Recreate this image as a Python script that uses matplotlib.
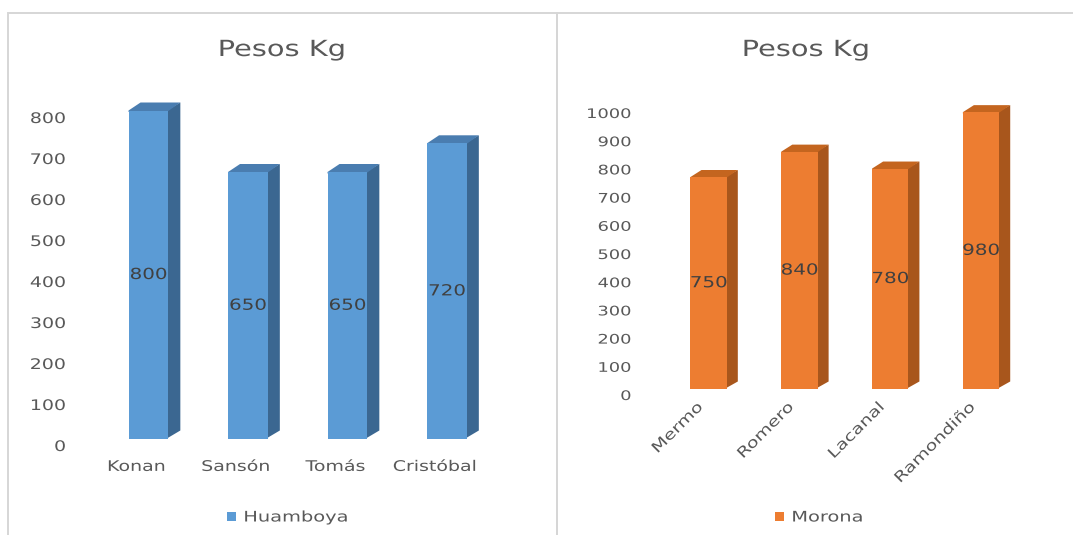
import numpy as np
import matplotlib
matplotlib.use("Agg")
import matplotlib.pyplot as plt
import matplotlib.patheffects as pe
from matplotlib.patches import Polygon, Rectangle
from matplotlib.transforms import ScaledTranslation, Affine2D
from matplotlib.path import Path

# ---- data -------------------------------------------------------------
huamboya_names = ["Konan", "Sansón", "Tomás", "Cristóbal"]
huamboya_kg = [800, 650, 650, 720]

morona_names = ["Mermo", "Romero", "Lacanal", "Ramondiño"]
morona_kg = [750, 840, 780, 980]

left_ticks = list(range(0, 801, 100))
right_ticks = list(range(0, 1001, 100))

# ---- figure -----------------------------------------------------------
W, H, DPI = 1073, 535, 100
plt.rcParams["font.family"] = ["DejaVu Sans"]
fig = plt.figure(figsize=(W / DPI, H / DPI), dpi=DPI)
fig.patch.set_facecolor("white")

TXT = "#595959"
VAL = "#404040"


class Stretch(pe.AbstractPathEffect):
    """Widen text horizontally (along its own baseline) about an anchor."""

    def __init__(self, sx=1.3, anchor="center", angle=0.0):
        super().__init__()
        self.sx, self.anchor, self.angle = sx, anchor, angle

    def draw_path(self, renderer, gc, tpath, affine, rgbFace=None):
        v = tpath.vertices
        if tpath.codes is not None:
            v = v[tpath.codes != Path.CLOSEPOLY]
        if len(v) == 0:
            renderer.draw_path(gc, tpath, affine, rgbFace)
            return
        r = Affine2D().rotate_deg(-self.angle).transform(affine.transform(v))
        if self.anchor == "left":
            x0 = r[:, 0].min()
        elif self.anchor == "right":
            x0 = r[:, 0].max()
        else:
            x0 = 0.5 * (r[:, 0].min() + r[:, 0].max())
        extra = (Affine2D().rotate_deg(-self.angle).translate(-x0, 0)
                 .scale(self.sx, 1).translate(x0, 0).rotate_deg(self.angle))
        renderer.draw_path(gc, tpath, affine + extra, rgbFace)


def px_axes(x0, y_top, x1, y_bot):
    return fig.add_axes([x0 / W, 1 - y_bot / H, (x1 - x0) / W, (y_bot - y_top) / H])


# panel frames
for x0, x1 in [(8, 557), (557, 1090)]:
    fig.patches.append(Rectangle((x0 / W, -0.1), (x1 - x0) / W, 1.1 - 13 / H,
                                 transform=fig.transFigure, fill=False,
                                 ec="#D6D6D6", lw=1.4))


def draw_3d_bars(ax, pos, vals, width, colors, depth, lift, ppx, ppy, fs_val):
    front, side, top = colors
    T = ax.transData + ScaledTranslation(0, lift / DPI, fig.dpi_scale_trans)
    bars = ax.bar(pos, vals, width, color=front, linewidth=0, zorder=3)
    dx, dy = depth[0] / ppx, depth[1] / ppy
    ex, ey = 1.5 / ppx, 1.5 / ppy  # small overlap hidden behind the front face
    for b, p, v in zip(bars, pos, vals):
        b.set_transform(T)
        b.set_clip_on(False)
        xa, xb = p - width / 2, p + width / 2
        ax.add_patch(Polygon([(xb - ex, 0), (xb + dx, dy), (xb + dx, v + dy), (xb - ex, v)],
                             closed=True, fc=side, ec="none", transform=T,
                             clip_on=False, zorder=2))
        ax.add_patch(Polygon([(xa, v - ey), (xa, v), (xa + dx, v + dy), (xb + dx, v + dy),
                              (xb - ex, v - ey)],
                             closed=True, fc=top, ec="none", transform=T,
                             clip_on=False, zorder=2))
        t = ax.text(p, v / 2, str(v), transform=T, ha="center", va="center",
                    fontsize=fs_val, color=VAL, zorder=4)
        t.set_path_effects([Stretch(1.3, "center")])
    return bars


def style_axes(ax):
    for s in ax.spines.values():
        s.set_visible(False)
    ax.set_facecolor("none")
    ax.tick_params(length=0, colors=TXT)


# ---- left chart: Huamboya ---------------------------------------------
axL = px_axes(86.75, 117, 484.75, 445)
xL = np.arange(len(huamboya_names))
barsL = draw_3d_bars(axL, xL + 0.12, huamboya_kg, 0.40,
                     ("#5B9BD5", "#3B6791", "#4A7DB0"),
                     depth=(12, 8), lift=6.5, ppx=99.5, ppy=328 / 800, fs_val=11)
axL.set_xlim(-0.5, 3.5)
axL.set_ylim(0, 800)
style_axes(axL)
axL.set_yticks(left_ticks)
axL.set_yticklabels([str(t) for t in left_ticks], fontsize=10.5, color=TXT)
axL.tick_params(axis="y", pad=15)
axL.set_xticks(xL)
axL.set_xticklabels(huamboya_names, fontsize=10.5, color=TXT)
axL.tick_params(axis="x", pad=10)
for t in axL.get_yticklabels():
    t.set_path_effects([Stretch(1.3, "right")])
for t in axL.get_xticklabels():
    t.set_path_effects([Stretch(1.3, "center")])

tl = fig.text(282 / W, 1 - 56 / H, "Pesos Kg", ha="center", va="baseline",
              fontsize=16, color=TXT)
tl.set_path_effects([Stretch(1.3, "center")])

legL = axL.legend([barsL], ["Huamboya"], loc="center left",
                  bbox_to_anchor=(227 / W, 1 - 517 / H), bbox_transform=fig.transFigure,
                  frameon=False, borderpad=0, borderaxespad=0, fontsize=10.5,
                  handlelength=0.65, handleheight=0.65, handletextpad=0.5)
for t in legL.get_texts():
    t.set_color(TXT)
    t.set_path_effects([Stretch(1.33, "left")])

# ---- right chart: Morona ----------------------------------------------
axR = px_axes(656.9, 113, 1020.1, 395)
xR = np.arange(len(morona_names))
barsR = draw_3d_bars(axR, xR + 0.07, morona_kg, 0.40,
                     ("#ED7D31", "#A8561C", "#C4651F"),
                     depth=(11, 7), lift=6.5, ppx=90.8, ppy=282 / 1000, fs_val=11)
axR.set_xlim(-0.5, 3.5)
axR.set_ylim(0, 1000)
style_axes(axR)
axR.set_yticks(right_ticks)
axR.set_yticklabels([str(t) for t in right_ticks], fontsize=9.5, color=TXT)
axR.tick_params(axis="y", pad=18.5)
axR.set_xticks(xR - 0.08)
axR.set_xticklabels(morona_names, fontsize=10.5, color=TXT, rotation=45,
                    ha="right", rotation_mode="anchor")
axR.tick_params(axis="x", pad=3)
for t in axR.get_yticklabels():
    t.set_path_effects([Stretch(1.35, "right")])
for t in axR.get_xticklabels():
    t.set_path_effects([Stretch(1.3, "right", 45)])

tr = fig.text(806 / W, 1 - 56 / H, "Pesos Kg", ha="center", va="baseline",
              fontsize=16, color=TXT)
tr.set_path_effects([Stretch(1.3, "center")])

legR = axR.legend([barsR], ["Morona"], loc="center left",
                  bbox_to_anchor=(775 / W, 1 - 517 / H), bbox_transform=fig.transFigure,
                  frameon=False, borderpad=0, borderaxespad=0, fontsize=10.5,
                  handlelength=0.65, handleheight=0.65, handletextpad=0.5)
for t in legR.get_texts():
    t.set_color(TXT)
    t.set_path_effects([Stretch(1.33, "left")])

fig.savefig("out.png", dpi=DPI, facecolor="white")
